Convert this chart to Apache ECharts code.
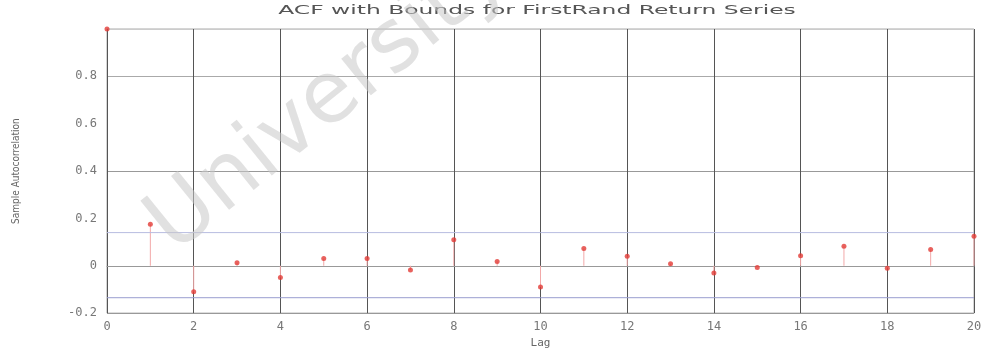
<!DOCTYPE html>
<html>
<head>
<meta charset="utf-8">
<script src="https://cdn.jsdelivr.net/npm/echarts@6/dist/echarts.min.js"></script>
<style>html,body{margin:0;padding:0;background:#fff}#c{width:989px;height:354px}</style>
</head>
<body>
<div id="c"></div>
<script>
var titleText = 'ACF with Bounds for FirstRand Return Series';
var xName = 'Lag';
var yName = 'Sample Autocorrelation';
var lags = [0,1,2,3,4,5,6,7,8,9,10,11,12,13,14,15,16,17,18,19,20];
var acf = [1,0.175,-0.11,0.013,-0.05,0.031,0.031,-0.018,0.11,0.018,-0.09,0.073,0.04,0.008,-0.031,-0.007,0.042,0.082,-0.011,0.069,0.125];
var upperBound = 0.14;
var lowerBound = -0.135;
var boundLags = [0, 20];
var yTickLabels = {'-0.2':'-0.2','0':'0','0.2':'0.2','0.4':'0.4','0.6':'0.6','0.8':'0.8','1':''};
var watermark = 'University';

var chart = echarts.init(document.getElementById('c'), null, {renderer:'canvas'});
var pts = lags.map(function(l,i){return [l, acf[i]];});
chart.setOption({
  backgroundColor:'#fff',
  animation:false,
  grid:{left:107,right:15,top:29,bottom:39,show:true,borderColor:'#aaa',borderWidth:1},
  xAxis:{type:'value',min:0,max:20,interval:2,name:xName,nameLocation:'middle',nameGap:22,
    nameTextStyle:{color:'#666',fontSize:11,fontFamily:'DejaVu Sans Mono'},
    axisLine:{show:true,lineStyle:{color:'#999'}},axisTick:{show:false},
    axisLabel:{color:'#777',fontSize:12,fontFamily:'DejaVu Sans Mono',margin:8},
    splitLine:{show:true,lineStyle:{color:'#555',width:1}}},
  yAxis:{type:'value',min:-0.2,max:1,interval:0.2,name:yName,nameLocation:'middle',nameGap:86,
    nameTextStyle:{color:'#666',fontSize:10,fontFamily:'DejaVu Sans Condensed'},
    axisLine:{show:false},axisTick:{show:false},
    axisLabel:{color:'#777',fontSize:12,fontFamily:'DejaVu Sans Mono',margin:10,
      formatter:function(v){var k=String(Math.round(v*10)/10);return yTickLabels[k]!==undefined?yTickLabels[k]:k;}},
    splitLine:{show:true,lineStyle:{color:['#999','#999','rgba(0,0,0,0)','#999','rgba(0,0,0,0)','#aaa','#ccc'],width:1}}},
  series:[
    {type:'bar',data:pts.slice(1),barWidth:1,itemStyle:{color:'#f2a8a8'},z:3,silent:true},
    {type:'scatter',data:pts,symbol:'circle',symbolSize:5,itemStyle:{color:'#e23b36'},z:5},
    {type:'line',data:boundLags.map(function(l){return [l,upperBound];}),symbol:'none',lineStyle:{color:'#b8bce0',width:1},z:4},
    {type:'line',data:boundLags.map(function(l){return [l,lowerBound];}),symbol:'none',lineStyle:{color:'#9a9ed0',width:1},z:4}
  ],
  graphic:[
    {type:'text',x:537,y:11,scaleX:1.95,style:{text:titleText,fill:'#555',font:'12px "DejaVu Sans"',align:'center',verticalAlign:'middle'},z:10},
    {type:'text',x:160,y:237,rotation:0.68,style:{text:watermark,fill:'rgba(200,200,200,0.55)',font:'86px "DejaVu Sans"',align:'left',verticalAlign:'middle'},z:20,silent:true}
  ]
});
</script>
</body>
</html>
